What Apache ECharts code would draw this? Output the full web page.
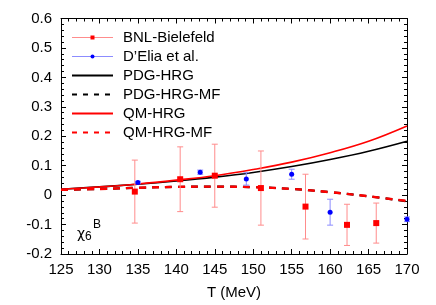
<!DOCTYPE html>
<html>
<head>
<meta charset="utf-8">
<script src="https://cdn.jsdelivr.net/npm/echarts@6/dist/echarts.min.js"></script>
<style>html,body{margin:0;padding:0;background:#fff;}#c{width:436px;height:305px;}</style>
</head>
<body>
<div id="c"></div>
<script>
// ---- data ----
var xTicks = [125, 130, 135, 140, 145, 150, 155, 160, 165, 170];
var yTicks = [-0.2, -0.1, 0, 0.1, 0.2, 0.3, 0.4, 0.5, 0.6];

var bnlT   = [134.6, 140.5, 145.0, 151.0, 156.8, 162.2, 166.0];
var bnlV   = [0.012, 0.054, 0.066, 0.024, -0.039, -0.101, -0.095];
var bnlErr = [0.107, 0.110, 0.107, 0.126, 0.110, 0.070, 0.068];

var eliaT   = [135.0, 143.1, 149.1, 155.0, 160.0, 170.0];
var eliaV   = [0.043, 0.078, 0.055, 0.071, -0.058, -0.082];
var eliaErr = [0.004, 0.007, 0.021, 0.017, 0.044, 0.008];

var curveT   = [125, 130, 135, 140, 145, 150, 155, 160, 165, 170];
var pdgHrg   = [0.020, 0.028, 0.037, 0.048, 0.061, 0.077, 0.097, 0.121, 0.149, 0.183];
var pdgHrgMf = [0.018, 0.021, 0.025, 0.028, 0.029, 0.027, 0.021, 0.010, -0.004, -0.021];
var qmHrg    = [0.020, 0.028, 0.038, 0.051, 0.066, 0.087, 0.112, 0.144, 0.183, 0.235];
var qmHrgMf  = [0.018, 0.021, 0.025, 0.028, 0.029, 0.027, 0.021, 0.010, -0.004, -0.020];

function pairs(xs, ys) { return xs.map(function (x, i) { return [x, ys[i]]; }); }
function errData(xs, ys, es) { return xs.map(function (x, i) { return [x, ys[i] - es[i], ys[i] + es[i]]; }); }

var FONT = 'Liberation Sans, Arial, sans-serif';

function errRender(color) {
  return function (params, api) {
    var x = api.value(0);
    var lo = api.coord([x, api.value(1)]);
    var hi = api.coord([x, api.value(2)]);
    var w = 3;
    var st = { stroke: color, lineWidth: 1 };
    return {
      type: 'group',
      children: [
        { type: 'line', shape: { x1: lo[0], y1: lo[1], x2: hi[0], y2: hi[1] }, style: st },
        { type: 'line', shape: { x1: lo[0] - w, y1: lo[1], x2: lo[0] + w, y2: lo[1] }, style: st },
        { type: 'line', shape: { x1: hi[0] - w, y1: hi[1], x2: hi[0] + w, y2: hi[1] }, style: st }
      ]
    };
  };
}

function boxAxis(extra) {
  var base = {
    axisLine: { show: true, onZero: false, lineStyle: { color: '#000', width: 1 } },
    axisTick: { show: true, inside: true, length: 5, lineStyle: { color: '#000' } },
    minorTick: { show: true, splitNumber: 5, length: 3, lineStyle: { color: '#000' } },
    splitLine: { show: false }
  };
  for (var k in extra) base[k] = extra[k];
  return base;
}

var chart = echarts.init(document.getElementById('c'), null, { renderer: 'canvas' });
chart.setOption({
  animation: false,
  backgroundColor: '#fff',
  textStyle: { fontFamily: FONT },
  grid: { left: 61, right: 29, top: 18.5, bottom: 51, show: false },
  xAxis: [
    boxAxis({ type: 'value', min: 125, max: 170, interval: 5, position: 'bottom',
      name: 'T (MeV)', nameLocation: 'middle', nameGap: 31,
      nameTextStyle: { fontSize: 15, color: '#000', fontFamily: FONT },
      axisLabel: { fontSize: 15, color: '#000', margin: 8, fontFamily: FONT } }),
    boxAxis({ type: 'value', min: 125, max: 170, interval: 5, position: 'top', axisLabel: { show: false } })
  ],
  yAxis: [
    boxAxis({ type: 'value', min: -0.2, max: 0.6, interval: 0.1, position: 'left',
      axisLabel: { fontSize: 15, color: '#000', margin: 9, fontFamily: FONT,
        formatter: function (v) { return String(Math.round(v * 10) / 10); } } }),
    boxAxis({ type: 'value', min: -0.2, max: 0.6, interval: 0.1, position: 'right', axisLabel: { show: false } })
  ],
  legend: {
    left: 71, top: 30, orient: 'vertical', padding: 0,
    itemWidth: 41, itemHeight: 5, itemGap: 4,
    textStyle: { fontSize: 15, color: '#000', fontFamily: FONT, padding: [0, 0, 0, 5] },
    data: [
      { name: 'BNL-Bielefeld', lineStyle: { color: '#ff8c8c', width: 1, opacity: 1 } },
      { name: "D\u2019Elia et al.", lineStyle: { color: '#8c8cff', width: 1, opacity: 1 } },
      { name: 'PDG-HRG', itemStyle: { opacity: 0 } },
      { name: 'PDG-HRG-MF', itemStyle: { opacity: 0 }, lineStyle: { type: [5, 6] } },
      { name: 'QM-HRG', itemStyle: { opacity: 0 } },
      { name: 'QM-HRG-MF', itemStyle: { opacity: 0 }, lineStyle: { type: [5, 6] } }
    ]
  },
  graphic: [
    { type: 'text', left: 77, top: 227, style: { text: '\u03c7', fontSize: 14, fill: '#000', fontFamily: 'DejaVu Sans' } },
    { type: 'text', left: 85, top: 231, style: { text: '6', fontSize: 12, fill: '#000', fontFamily: FONT } },
    { type: 'text', left: 93, top: 219, style: { text: 'B', fontSize: 12, fill: '#000', fontFamily: FONT } }
  ],
  series: [
    { name: 'PDG-HRG', type: 'line', data: pairs(curveT, pdgHrg), smooth: 0.4, symbol: 'none',
      lineStyle: { color: '#000', width: 1.6 }, itemStyle: { color: '#000' }, z: 3 },
    { name: 'PDG-HRG-MF', type: 'line', data: pairs(curveT, pdgHrgMf), smooth: 0.4, symbol: 'none',
      lineStyle: { color: '#000', width: 2.2, type: [7, 6] }, itemStyle: { color: '#000' }, z: 3 },
    { name: 'QM-HRG', type: 'line', data: pairs(curveT, qmHrg), smooth: 0.4, symbol: 'none',
      lineStyle: { color: '#ff0000', width: 1.6 }, itemStyle: { color: '#ff0000' }, z: 4 },
    { name: 'QM-HRG-MF', type: 'line', data: pairs(curveT, qmHrgMf), smooth: 0.4, symbol: 'none',
      lineStyle: { color: '#ff0000', width: 2.4, type: [7, 6] }, itemStyle: { color: '#ff0000' }, z: 4 },
    { name: 'bnlErr', type: 'custom', data: errData(bnlT, bnlV, bnlErr), renderItem: errRender('#ff8c8c'), z: 5, clip: false },
    { name: 'eliaErr', type: 'custom', data: errData(eliaT, eliaV, eliaErr), renderItem: errRender('#8c8cff'), z: 5, clip: false },
    { name: 'BNL-Bielefeld', type: 'line', data: pairs(bnlT, bnlV), symbol: 'rect', symbolSize: 6, showSymbol: true,
      lineStyle: { opacity: 0 }, itemStyle: { color: '#ff0000' }, z: 6 },
    { name: "D\u2019Elia et al.", type: 'line', data: pairs(eliaT, eliaV), symbol: 'circle', symbolSize: 5, showSymbol: true,
      lineStyle: { opacity: 0 }, itemStyle: { color: '#0000ff' }, z: 6, clip: false }
  ]
});
</script>
</body>
</html>
